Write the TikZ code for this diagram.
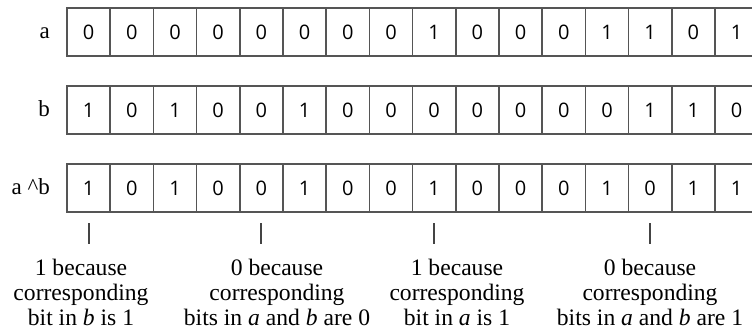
\documentclass[tikz,border=0pt]{standalone}
\usepackage{fontspec}
\setmainfont{Liberation Serif}
\newfontfamily\digitfont{Open Sans}
\usetikzlibrary{calc}
\definecolor{bordergray}{HTML}{555555}
\definecolor{tickgray}{HTML}{444444}
\begin{document}
\begin{tikzpicture}[x=1pt,y=-1pt,
  cell/.style={draw=bordergray, line width=1.6pt, minimum width=43.2pt, minimum height=48pt,
    inner sep=0pt, outer sep=0pt, anchor=north west, font=\digitfont\fontsize{20}{20}\selectfont},
  outerline/.style={draw=bordergray, line width=2.4pt},
  lbl/.style={anchor=base east, inner sep=0pt, font=\fontsize{23}{25}\selectfont},
  tickline/.style={draw=tickgray, line width=2pt},
  note/.style={anchor=base, align=center, inner sep=0pt, font=\fontsize{23.6}{25}\selectfont}]
\useasboundingbox (0,0) rectangle (752,333);
\clip (0,0) rectangle (752,333);
% row a
\foreach \v [count=\i from 0] in {0,0,0,0,0,0,0,0,1,0,0,0,1,1,0,1}
  \node[cell] (a\i) at ({67+43.2*\i},8) {\v};
\draw[outerline] (a0.north west) rectangle (a15.south east);
% row b
\foreach \v [count=\i from 0] in {1,0,1,0,0,1,0,0,0,0,0,0,0,1,1,0}
  \node[cell] (b\i) at ({67+43.2*\i},86) {\v};
\draw[outerline] (b0.north west) rectangle (b15.south east);
% row a^b
\foreach \v [count=\i from 0] in {1,0,1,0,0,1,0,0,1,0,0,0,1,0,1,1}
  \node[cell] (c\i) at ({67+43.2*\i},164) {\v};
\draw[outerline] (c0.north west) rectangle (c15.south east);
% labels
\node[lbl] (la) at (50,38) {a};
\node[lbl] (lb) at (50,116) {b};
\node[lbl] (lc) at (50,194) {a \textasciicircum b};
% ticks
\foreach \k in {0,4,8,13}
  \draw[tickline] ($(c\k.south)+(0,11)$) -- ($(c\k.south)+(0,32)$);
% notes
\node[note] (n1) at (81,325) {1 because\\corresponding\\bit in \textit{b} is 1};
\node[note] (n2) at (277,325) {0 because\\corresponding\\bits in \textit{a} and \textit{b} are 0};
\node[note] (n3) at (457,325) {1 because\\corresponding\\bit in \textit{a} is 1};
\node[note] (n4) at (650,325) {0 because\\corresponding\\bits in \textit{a} and \textit{b} are 1};
\end{tikzpicture}
\end{document}
